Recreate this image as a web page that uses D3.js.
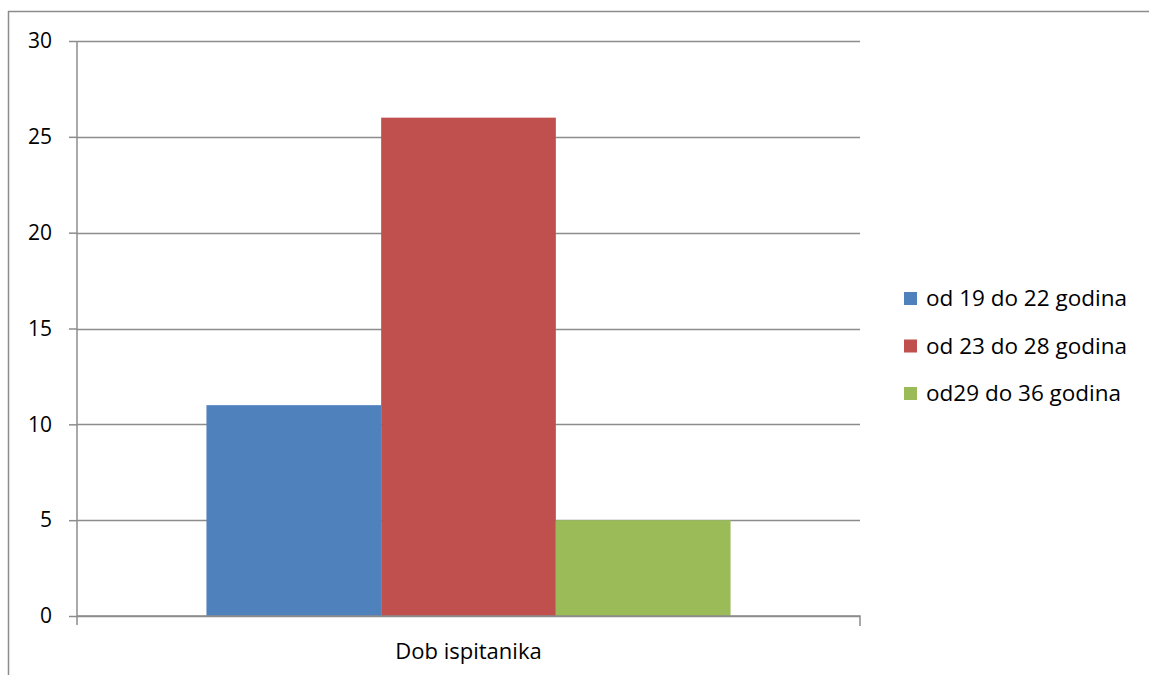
<!DOCTYPE html>
<html>
    <head>
        <meta charset="utf-8">
        <title>Dob ispitanika</title>
        <script src="https://d3js.org/d3.v7.min.js"></script>
        <style>
            body { margin: 0; background: #fff; }
            text { font-family: "Open Sans", "Noto Sans", sans-serif; fill: #000; }
        </style>
    </head>
    <body>
        <script>
            var category = "Dob ispitanika";
            var seriesNames = ["od 19 do 22 godina", "od 23 do 28 godina", "od29 do 36 godina"];
            var seriesValues = [11, 26, 5];
            var seriesColors = ["#4f81bd", "#c0504d", "#9bbb59"];
            var yTicks = [0, 5, 10, 15, 20, 25, 30];

            function draw(){
                var width = 1149, height = 675;
                var plotLeft = 77, plotRight = 860, plotTop = 41, plotBottom = 616;
                var grey = "#8c8c8c";

                var svg = d3.select("body").append("svg")
                        .attr("width", width)
                        .attr("height", height);

                // outer frame (only left and top edges visible)
                svg.append("line").attr("x1", 8.5).attr("x2", 8.5).attr("y1", 11).attr("y2", height)
                        .attr("stroke", grey).attr("stroke-width", 1.5);
                svg.append("line").attr("x1", 8).attr("x2", width).attr("y1", 11.5).attr("y2", 11.5)
                        .attr("stroke", grey).attr("stroke-width", 1.5);

                var y = d3.scaleLinear().domain([0, 30]).range([plotBottom, plotTop]);
                var x0 = d3.scaleBand().domain([category]).range([plotLeft, plotRight])
                        .paddingInner(0).paddingOuter(0.247);
                var x1 = d3.scaleBand().domain(seriesNames).range([0, x0.bandwidth()]).paddingInner(0);

                // gridlines
                svg.append("g").selectAll("line").data(yTicks).enter().append("line")
                        .attr("x1", plotLeft).attr("x2", plotRight)
                        .attr("y1", function(d){ return Math.round(y(d)) + 0.5; })
                        .attr("y2", function(d){ return Math.round(y(d)) + 0.5; })
                        .attr("stroke", grey).attr("stroke-width", 1.5);

                // bars
                svg.append("g").selectAll("rect").data(seriesValues).enter().append("rect")
                        .attr("x", function(d, i){ return x0(category) + x1(seriesNames[i]); })
                        .attr("width", x1.bandwidth())
                        .attr("y", function(d){ return y(d); })
                        .attr("height", function(d){ return y(0) - y(d); })
                        .attr("fill", function(d, i){ return seriesColors[i]; });

                // y axis
                var yAxis = svg.append("g")
                        .attr("transform", "translate(" + plotLeft + ",0)")
                        .call(d3.axisLeft(y).tickValues(yTicks).tickSize(8).tickPadding(17));
                yAxis.select(".domain").attr("stroke", grey).attr("stroke-width", 1.5)
                        .attr("d", "M0," + plotTop + "V" + (plotBottom + 9));
                yAxis.selectAll(".tick line").attr("stroke", grey).attr("stroke-width", 1.5);
                yAxis.selectAll(".tick text").style("font-size", "21px").attr("fill", "#000");

                // x axis
                var xAxis = svg.append("g")
                        .attr("transform", "translate(0," + plotBottom + ")")
                        .call(d3.axisBottom(x0).tickSize(0).tickPadding(27));
                xAxis.select(".domain").attr("stroke", grey).attr("stroke-width", 1.5)
                        .attr("d", "M" + plotLeft + ",0H" + plotRight + "V10");
                xAxis.selectAll(".tick text").style("font-size", "22px").attr("fill", "#000");

                // legend
                var legend = svg.append("g").selectAll("g").data(seriesNames).enter().append("g")
                        .attr("transform", function(d, i){ return "translate(904," + (292 + i * 47.5) + ")"; });
                legend.append("rect").attr("width", 13).attr("height", 13)
                        .attr("fill", function(d, i){ return seriesColors[i]; });
                legend.append("text").attr("x", 22).attr("y", 14)
                        .style("font-size", "22.5px")
                        .text(function(d){ return d; });
            }

            draw();
        </script>
    </body>
</html>
